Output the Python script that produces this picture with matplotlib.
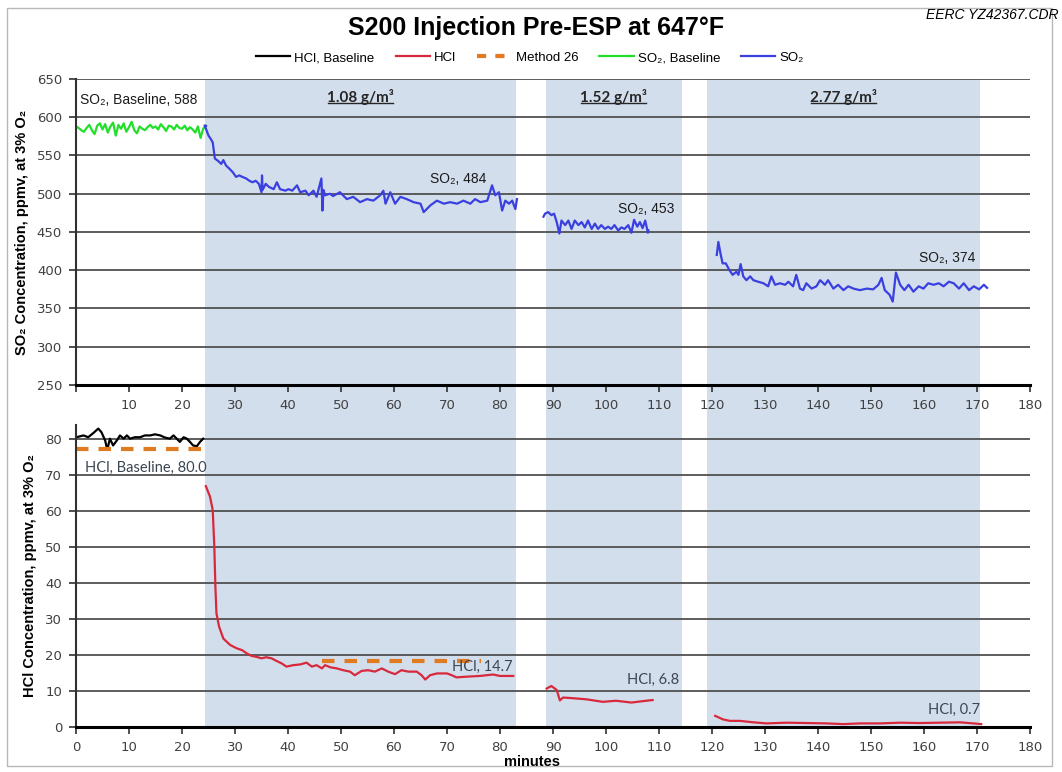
#!/usr/bin/env python3
import numpy as np
import matplotlib
matplotlib.use("Agg")
import matplotlib.pyplot as plt
from matplotlib.lines import Line2D
from matplotlib.patches import Rectangle
from matplotlib.transforms import IdentityTransform

###########################################################################
# sorbent injection periods (minutes) and their labels
band_starts = [24.3, 88.6, 119.0]
band_ends = [83.1, 114.3, 170.6]
band_labels = ["1.08 g/m³", "1.52 g/m³", "2.77 g/m³"]

# SO2 baseline, sampled every half minute from t = 0
so2_base_step = 0.5
so2_base = [588, 586, 583, 581, 586, 590, 583, 578, 589, 592,
            584, 591, 580, 588, 593, 576, 590, 585, 592, 581,
            587, 594, 583, 579, 588, 585, 583, 587, 590, 586,
            588, 584, 591, 587, 582, 589, 588, 584, 590, 586,
            585, 589, 583, 587, 584, 580, 588, 573, 585, 589]

# SO2 during injection
so2_t1 = [24.3, 25.0, 25.4, 25.8, 26.2, 26.8, 27.4, 27.8, 28.3, 28.9,
          29.6, 30.2, 30.8, 31.4, 32.1, 32.7, 33.3, 33.9, 34.5, 35.0,
          35.1, 35.2, 35.8, 36.4, 37.3, 37.9, 38.5, 39.5, 40.1, 40.8,
          41.7, 42.3, 43.3, 43.9, 44.8, 45.4, 46.3, 46.5, 46.7, 47.0,
          47.9, 48.5, 49.8, 51.1, 52.3, 53.6, 54.9, 56.1, 57.4, 58.0,
          58.4, 59.3, 60.2, 61.2, 62.4, 63.7, 65.0, 65.6, 66.9, 68.1,
          69.4, 70.6, 71.9, 73.1, 74.4, 75.3, 76.3, 77.6, 78.5, 79.1,
          79.8, 80.4, 81.0, 81.7, 82.3, 82.9, 83.2]
so2_v1 = [589, 576, 572, 567, 546, 543, 539, 544, 537, 533,
          528, 522, 524, 522, 520, 517, 515, 517, 513, 502,
          524, 505, 513, 509, 506, 515, 506, 504, 506, 504,
          511, 502, 504, 498, 504, 496, 520, 478, 505, 498,
          500, 497, 502, 493, 496, 489, 493, 491, 498, 504,
          487, 502, 487, 496, 493, 489, 487, 476, 485, 491,
          487, 489, 487, 491, 487, 493, 489, 491, 511, 498,
          502, 478, 491, 487, 491, 480, 493]

so2_t2 = [88.2, 88.5, 89.1, 89.7, 90.2, 90.7, 91.2, 91.6, 92.3, 92.9,
          93.5, 94.1, 94.8, 95.4, 96.0, 96.6, 97.3, 97.9, 98.5, 99.1,
          99.8, 100.4, 101.0, 101.6, 102.3, 102.9, 103.5, 104.2, 104.8, 105.3,
          105.9, 106.4, 106.9, 107.4, 107.9, 108.0]
so2_v2 = [470, 474, 476, 472, 474, 463, 448, 465, 459, 465,
          454, 465, 459, 463, 456, 465, 454, 461, 454, 459,
          454, 457, 454, 459, 452, 456, 454, 459, 449, 466,
          457, 463, 455, 465, 449, 452]

so2_t3 = [120.9, 121.2, 121.6, 122.0, 122.6, 123.3, 123.9, 124.6, 125.0, 125.4,
          125.9, 126.5, 127.2, 127.8, 128.7, 129.7, 130.6, 131.2, 131.9, 132.8,
          133.8, 134.4, 135.3, 135.9, 136.6, 137.2, 137.8, 138.8, 139.7, 140.4,
          141.3, 141.9, 142.9, 143.8, 144.8, 145.7, 146.7, 147.9, 149.2, 150.4,
          151.4, 152.0, 152.6, 153.5, 154.1, 154.7, 155.5, 156.3, 157.1, 158.0,
          159.0, 159.9, 160.8, 161.8, 162.8, 163.7, 164.7, 165.6, 166.6, 167.5,
          168.5, 169.4, 170.4, 171.3, 171.9]
so2_v3 = [420, 437, 422, 409, 409, 400, 394, 398, 394, 408,
          392, 387, 392, 387, 385, 383, 379, 392, 381, 383,
          381, 385, 379, 394, 376, 374, 383, 376, 379, 387,
          381, 387, 376, 381, 374, 379, 376, 374, 376, 375,
          381, 390, 374, 368, 359, 397, 381, 374, 381, 372,
          379, 376, 383, 381, 383, 379, 385, 383, 376, 383,
          374, 379, 375, 381, 377]

# HCl baseline
hcl_base_t = [0.1, 1.4, 2.3, 3.3, 4.2, 4.8, 5.5, 5.9, 6.4, 7.0,
              7.7, 8.3, 9.0, 9.6, 10.2, 11.1, 12.1, 13.0, 14.0, 14.9,
              15.9, 16.8, 17.7, 18.4, 19.0, 19.6, 20.3, 20.9, 21.5, 22.1,
              22.8, 23.4, 24.0]
hcl_base_v = [80.6, 81.1, 80.6, 81.8, 83.0, 82.0, 79.7, 77.1, 80.2, 78.3,
              79.7, 81.1, 80.2, 81.1, 80.2, 80.6, 80.6, 81.1, 81.1, 81.4,
              81.1, 80.5, 80.2, 81.1, 80.2, 79.3, 80.6, 80.2, 79.3, 78.3,
              78.1, 79.3, 80.2]

# HCl during injection
hcl_t1 = [24.5, 25.3, 25.8, 26.1, 26.3, 26.5, 27.0, 27.8, 29.1, 30.3,
          31.3, 32.2, 33.1, 34.1, 35.0, 35.9, 36.9, 37.8, 38.8, 39.7,
          41.0, 42.3, 43.5, 44.5, 45.4, 46.4, 47.0, 48.0, 49.2, 50.4,
          51.7, 52.6, 53.9, 55.1, 56.4, 57.7, 58.9, 60.2, 61.4, 62.7,
          64.3, 65.2, 65.9, 66.8, 68.1, 70.0, 70.9, 71.8, 73.7, 76.2,
          78.7, 80.0, 82.5]
hcl_v1 = [67.0, 64.0, 60.3, 50.1, 39.0, 31.6, 27.9, 24.6, 22.8, 21.9,
          21.4, 20.5, 19.8, 19.5, 19.1, 19.4, 19.1, 18.4, 17.7, 16.8,
          17.2, 17.4, 17.9, 16.8, 17.2, 16.3, 17.2, 16.6, 16.3, 15.8,
          15.4, 14.4, 15.6, 15.8, 15.4, 16.3, 15.4, 14.7, 15.8, 15.4,
          15.4, 14.4, 13.2, 14.4, 14.9, 14.9, 14.4, 13.8, 14.0, 14.2,
          14.6, 14.2, 14.2]

hcl_t2 = [88.8, 89.7, 90.7, 91.3, 91.9, 93.8, 96.3, 99.4, 101.9, 104.8,
          107.0, 108.8]
hcl_v2 = [10.7, 11.4, 10.3, 7.4, 8.2, 8.0, 7.7, 7.0, 7.3, 6.8,
          7.2, 7.5]

hcl_t3 = [120.6, 122.1, 123.4, 125.3, 127.8, 130.3, 134.1, 137.9, 141.6, 144.8,
          147.9, 151.7, 155.5, 159.2, 163.0, 166.8, 169.3, 170.8]
hcl_v3 = [3.1, 2.1, 1.7, 1.7, 1.3, 1.0, 1.2, 1.1, 1.0, 0.8,
          1.0, 1.0, 1.2, 1.1, 1.2, 1.3, 1.0, 0.8]

# Method 26 reference results
m26_t = [[0.0, 24.9], [46.4, 76.5]]
m26_v = [77.4, 18.3]

# averaged value labels
so2_notes = [("SO₂, Baseline, 588", 0.8, 622), ("SO₂, 484", 66.8, 519),
             ("SO₂, 453", 102.3, 480), ("SO₂, 374", 159.0, 416)]
hcl_notes = [("HCl, Baseline, 80.0", 1.7, 72.0), ("HCl, 14.7", 70.9, 16.6),
             ("HCl, 6.8", 103.9, 13.2), ("HCl, 0.7", 160.8, 4.7)]

###########################################################################
c_green = "#22e02a"
c_blue = "#3a40e0"
c_red = "#d8293c"
c_orange = "#e07b22"
c_band = "#d3deed"
c_grid = "#505050"
c_tick = "#404040"
arial = ["Liberation Sans", "DejaVu Sans"]

W, H = 1062, 772
fig = plt.figure(figsize=(W / 100, H / 100), dpi=100)
fig.patch.set_facecolor("white")

def frac(x0, y0, x1, y1):
    return [x0 / W, 1 - y1 / H, (x1 - x0) / W, (y1 - y0) / H]

# shaded injection periods run through both panels
ax_bg = fig.add_axes(frac(76, 79, 1030, 727))
ax_bg.set_xlim(0, 180)
for s, e in zip(band_starts, band_ends):
    ax_bg.axvspan(s, e, color=c_band, lw=0)
ax_bg.axis("off")
ax_bg.set_zorder(0)

ax1 = fig.add_axes(frac(76, 79, 1030, 385))
ax2 = fig.add_axes(frac(76, 425, 1030, 727))

for ax in (ax1, ax2):
    ax.set_zorder(1)
    ax.patch.set_visible(False)
    ax.set_xlim(0, 180)
    ax.set_xticks(np.arange(0, 181, 10))
    for sp in ("top", "right"):
        ax.spines[sp].set_visible(False)
    ax.spines["left"].set_color("#303030")
    ax.spines["left"].set_linewidth(1.5)
    ax.spines["bottom"].set_color("black")
    ax.spines["bottom"].set_linewidth(2.2)
    ax.yaxis.grid(True, color=c_grid, lw=1.3)
    ax.set_axisbelow(True)
    ax.tick_params(axis="both", direction="out", length=5, width=1.2,
                   colors="#303030", labelcolor=c_tick, labelsize=9.5, pad=5)

# ---- SO2 panel
ax1.set_ylim(250, 650)
ax1.set_yticks(np.arange(250, 651, 50))
ax1.set_xticklabels([""] + [str(v) for v in range(10, 181, 10)])
t_base = np.arange(len(so2_base)) * so2_base_step
ax1.plot(t_base, so2_base, color=c_green, lw=1.6)
ax1.plot([t_base[-1], so2_t1[0]], [so2_base[-1], so2_v1[0]], color=c_blue, lw=1.6)
for t, v in ((so2_t1, so2_v1), (so2_t2, so2_v2), (so2_t3, so2_v3)):
    ax1.plot(t, v, color=c_blue, lw=1.6)
for txt, x, y in so2_notes:
    ax1.text(x, y, txt, fontsize=10, family=arial,
             color="#1a1a1a", va="center", ha="left")
ax1.set_ylabel("SO₂ Concentration, ppmv, at 3% O₂", fontsize=10.5, fontweight="bold",
               family=arial)

band_txt = []
for s, e, lab in zip(band_starts, band_ends, band_labels):
    band_txt.append(ax1.text((s + e) / 2, 627, lab, ha="center", va="center",
                             fontsize=11, fontweight="bold", family="Lato",
                             color="#262626"))

# ---- HCl panel
ax2.set_ylim(0, 84)
ax2.set_yticks(np.arange(0, 81, 10))
ax2.plot(hcl_base_t, hcl_base_v, color="black", lw=1.6)
for t, v in ((hcl_t1, hcl_v1), (hcl_t2, hcl_v2), (hcl_t3, hcl_v3)):
    ax2.plot(t, v, color=c_red, lw=1.6)
for t, v in zip(m26_t, m26_v):
    ax2.plot(t, [v, v], color=c_orange, lw=3, dashes=(3, 2.4))
for txt, x, y in hcl_notes:
    ax2.text(x, y, txt, fontsize=10.5, family="Lato", color="#3c4653",
             va="center", ha="left")
ax2.set_ylabel("HCl Concentration, ppmv, at 3% O₂", fontsize=10.5, fontweight="bold",
               family=arial)
ax1.yaxis.set_label_coords(-0.049, 0.5)
ax2.yaxis.set_label_coords(-0.041, 0.5)

fig.text(532 / W, 1 - 762 / H, "minutes", ha="center", va="center",
         fontsize=10.5, fontweight="bold", family=arial)

# ---- title, id and legend
fig.text(536 / W, 1 - 28 / H, "S200 Injection Pre-ESP at 647°F", ha="center",
         va="center", fontsize=18, fontweight="bold", family=arial)
fig.text(1058 / W, 1 - 15 / H, "EERC YZ42367.CDR", ha="right", va="center",
         fontsize=10, style="italic", family=arial)

handles = [Line2D([], [], color="black", lw=1.6),
           Line2D([], [], color=c_red, lw=1.6),
           Line2D([], [], color=c_orange, lw=3, dashes=(2.2, 2.2)),
           Line2D([], [], color=c_green, lw=1.6),
           Line2D([], [], color=c_blue, lw=1.6)]
names = ["HCl, Baseline", "HCl", "Method 26", "SO₂, Baseline", "SO₂"]
fig.legend(handles, names, loc="center", bbox_to_anchor=(530 / W, 1 - 58 / H),
           ncol=5, frameon=False, handlelength=2.6, handletextpad=0.3,
           columnspacing=1.6, prop={"family": arial, "size": 9.5})

# outer frame
fig.add_artist(Rectangle((7 / W, 1 - 766 / H), 1045 / W, 758 / H, transform=fig.transFigure,
                         fill=False, ec="#b8b8b8", lw=1))

# underline the loading labels
fig.canvas.draw()
for t in band_txt:
    bb = t.get_window_extent()
    fig.add_artist(Line2D([bb.x0 + 1, bb.x1 - 1], [bb.y0 + 2, bb.y0 + 2],
                          transform=IdentityTransform(), color="#262626", lw=1))

fig.savefig("out.png", dpi=100)
plt.close()
